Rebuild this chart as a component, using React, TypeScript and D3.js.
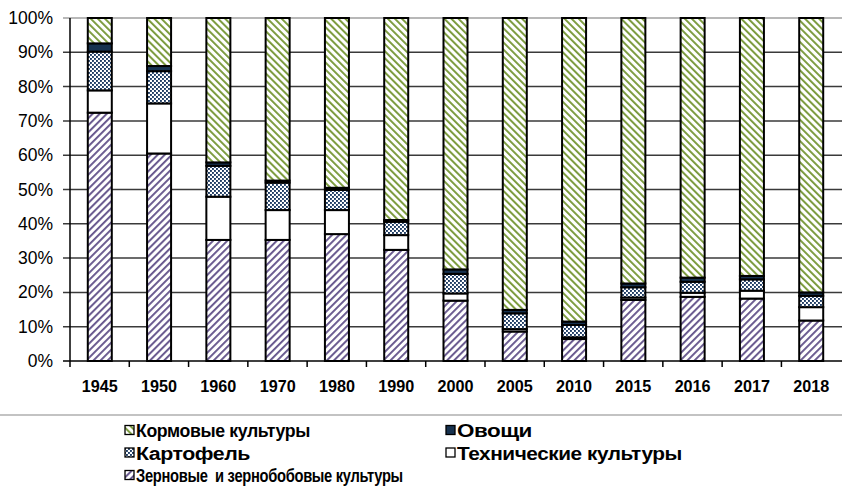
import React, { useEffect, useRef, useState } from "react";
import * as d3 from "d3";

const years = ["1945","1950","1960","1970","1980","1990","2000","2005","2010","2015","2016","2017","2018"];
const grain = [72.4, 60.5, 35.3, 35.3, 37.0, 32.4, 17.6, 8.6, 6.4, 17.8, 18.7, 18.2, 11.8];
const tech = [6.5, 14.6, 12.6, 8.7, 7.0, 4.3, 2.1, 0.7, 0.5, 0.7, 1.2, 2.3, 3.9];
const potato = [11.3, 9.4, 9.0, 8.0, 5.9, 3.9, 5.7, 4.6, 3.6, 3.0, 3.2, 3.3, 3.3];
const veg = [2.4, 1.5, 1.0, 0.6, 0.6, 0.5, 1.3, 1.0, 1.0, 1.1, 1.2, 1.0, 1.0];
const yTicks = [0, 10, 20, 30, 40, 50, 60, 70, 80, 90, 100];

const seriesKeys = ["grain", "tech", "potato", "veg", "feed"];
const seriesFill: Record<string, string> = {
  grain: "url(#pGrain)",
  tech: "#ffffff",
  potato: "url(#pPotato)",
  veg: "#17324f",
  feed: "url(#pFeed)",
};

const legendItems = [
  { key: "feed", label: "Кормовые культуры", col: 0, row: 0, len: 174 },
  { key: "veg", label: "Овощи", col: 1, row: 0, len: 75 },
  { key: "potato", label: "Картофель", col: 0, row: 1, len: 114 },
  { key: "tech", label: "Технические культуры", col: 1, row: 1, len: 225 },
  { key: "grain", label: "Зерновые  и зернобобовые культуры", col: 0, row: 2, len: 267 },
];

function FitText(props: { x: number; y: number; len: number; text: string; font: string }) {
  const ref = useRef<SVGTextElement>(null);
  const [k, setK] = useState(1);
  useEffect(() => {
    if (ref.current) {
      const w = ref.current.getComputedTextLength();
      if (w > 0) setK(props.len / w);
    }
  }, [props.len, props.text]);
  return (
    <g transform={`translate(${props.x},${props.y}) scale(${k},1)`}>
      <text ref={ref} x={0} y={0} dominantBaseline="central" fontFamily={props.font} fontSize={19} fontWeight="bold" letterSpacing={-0.4} fill="#000" style={{ whiteSpace: "pre" }}>
        {props.text}
      </text>
    </g>
  );
}

export default function App() {
  const W = 842, H = 488;
  const rows = years.map((y, i) => ({
    year: y,
    grain: grain[i],
    tech: tech[i],
    potato: potato[i],
    veg: veg[i],
    feed: 100 - grain[i] - tech[i] - potato[i] - veg[i],
  }));
  const stack = d3.stack<any>().keys(seriesKeys);
  const series = stack(rows);
  const x = d3.scaleBand().domain(years).range([70, 841]).paddingInner(0.595).paddingOuter(0.3);
  const y = d3.scaleLinear().domain([0, 100]).range([361, 18]);
  const step = x.step();
  const font = "'Liberation Sans', Arial, sans-serif";

  return (
    <svg width={W} height={H} style={{ position: "absolute", left: 0, top: 0, background: "#fff" }}>
      <defs>
        <pattern id="pGrain" width="5" height="5" patternUnits="userSpaceOnUse" patternTransform="rotate(45)">
          <rect width="5" height="5" fill="#fff" />
          <rect width="1.9" height="5" fill="#65558c" />
        </pattern>
        <pattern id="pFeed" width="5" height="5" patternUnits="userSpaceOnUse" patternTransform="rotate(-45)">
          <rect width="5" height="5" fill="#fff" />
          <rect width="1.9" height="5" fill="#789838" />
        </pattern>
        <pattern id="pPotato" width="4" height="4" patternUnits="userSpaceOnUse">
          <rect width="4" height="4" fill="#fff" />
          <rect x="0" y="0" width="1.9" height="1.9" fill="#1c3a62" />
          <rect x="2" y="2" width="1.9" height="1.9" fill="#1c3a62" />
        </pattern>
      </defs>

      {yTicks.map((t) => (
        <g key={t}>
          <line x1={63} x2={842} y1={y(t)} y2={y(t)} stroke={t === 100 ? "#a0a0a0" : t === 0 ? "#000" : "#3a3a3a"} strokeWidth={1.5} />
          <text x={53} y={y(t)} textAnchor="end" dominantBaseline="central" fontFamily={font} fontSize={17.5} fill="#000">
            {t}%
          </text>
        </g>
      ))}
      <line x1={70} x2={70} y1={18} y2={367} stroke="#000" strokeWidth={1.5} />
      {years.map((yr, i) => {
        const bx = 70 + step * (i + 1);
        return i < years.length - 1 ? (
          <line key={yr} x1={bx} x2={bx} y1={361} y2={367} stroke="#000" strokeWidth={1.5} />
        ) : null;
      })}

      {series.map((s) => (
        <g key={s.key}>
          {s.map((d, i) => (
            <rect
              key={i}
              x={x(years[i])}
              y={y(d[1])}
              width={x.bandwidth()}
              height={y(d[0]) - y(d[1])}
              fill={seriesFill[s.key]}
              stroke="#000"
              strokeWidth={2}
            />
          ))}
        </g>
      ))}

      {years.map((yr) => (
        <text key={yr} x={(x(yr) as number) + x.bandwidth() / 2} y={386} textAnchor="middle" dominantBaseline="central" fontFamily={font} fontSize={17} fontWeight="bold" fill="#000" textLength={36} lengthAdjust="spacingAndGlyphs">
          {yr}
        </text>
      ))}

      <rect x={-1} y={415} width={W + 2} height={80} fill="none" stroke="#b0b0b0" strokeWidth={1.5} />
      {legendItems.map((it) => {
        const mx = it.col === 0 ? 125 : 446;
        const cy = 430 + it.row * 22.5;
        return (
          <g key={it.key}>
            <rect x={mx} y={cy - 4.5} width={9} height={9} fill={seriesFill[it.key]} stroke="#000" strokeWidth={1.3} />
            <FitText x={mx + 11} y={cy + 0.5} len={it.len} text={it.label} font={font} />
          </g>
        );
      })}
    </svg>
  );
}
